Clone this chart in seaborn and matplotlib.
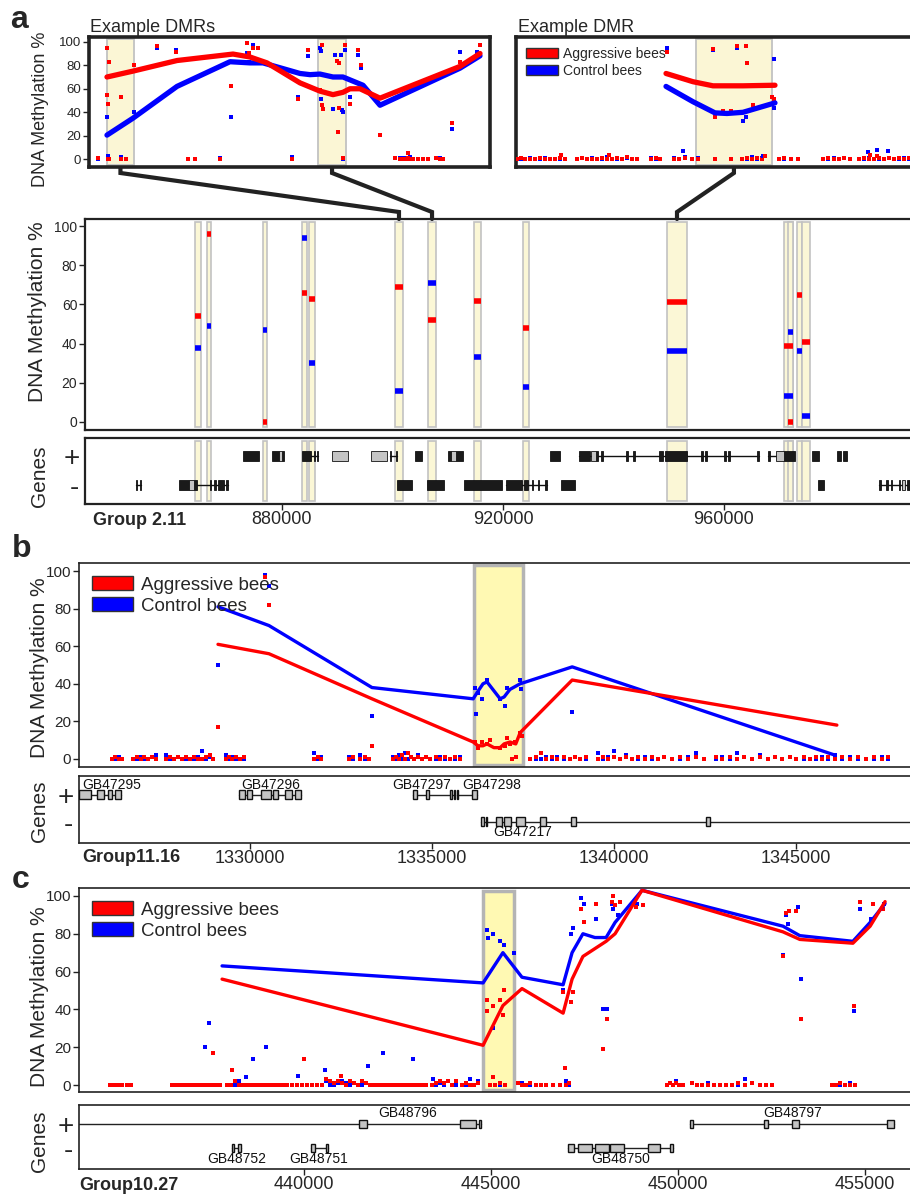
import pandas as pd
import seaborn as sns
import matplotlib.pyplot as plt
from matplotlib.lines import Line2D
from matplotlib.patches import Patch
from matplotlib.ticker import FuncFormatter

sns.set_style("white")
plt.rcParams['font.family'] = ['Liberation Sans', 'DejaVu Sans']

W, H = 910, 1195
RED = '#ff0000'
BLUE = '#0000ff'

# ---------------------------------------------------------------
# Panel a : Group 2.11 (positions in kb)
# ---------------------------------------------------------------
a_dmr_start = [864.25, 866.43, 876.56, 883.62, 884.89, 900.45, 906.43, 914.75, 923.62, 949.68, 970.86, 971.59, 973.22, 974.12]
a_dmr_end = [865.34, 867.15, 877.29, 884.53, 885.97, 901.90, 907.88, 916.02, 924.71, 953.31, 972.49, 972.49, 974.12, 975.57]
a_dmr_aggr = [54, 96, 0, 66, 63, 69, 52, 62, 48, 61, 39, 0, 65, 41]
a_dmr_ctrl = [38, 49, 47, 94, 30, 16, 71, 33, 18, 36, 13, 46, 36, 3]

a_plus_black = [(872.9, 875.8), (878.2, 879.5), (880.0, 880.4), (883.6, 885.3), (885.8, 886.0), (886.3, 886.5),
                (899.5, 899.7), (900.6, 900.8), (904.1, 905.3), (910.0, 910.5), (911.5, 912.8), (928.5, 930.3),
                (933.8, 935.8), (936.9, 937.2), (937.7, 938.1), (942.3, 942.7), (943.5, 943.9), (948.2, 949.0),
                (949.3, 953.3), (955.8, 956.2), (956.5, 956.9), (960.0, 960.4), (960.7, 961.1), (966.0, 966.3),
                (968.0, 968.4), (970.8, 972.9), (975.9, 977.2), (980.5, 981.2), (981.6, 982.3)]
a_plus_gray = [(879.5, 880.0), (889.1, 891.9), (896.1, 899.0), (910.5, 911.5), (936.0, 936.9), (969.5, 970.8)]
a_plus_introns = [(885.3, 886.5), (899.5, 900.8), (933.8, 966.3), (968.0, 970.0)]
a_minus_black = [(853.6, 853.8), (854.3, 854.5), (861.4, 863.2), (864.0, 864.6), (866.9, 867.1), (867.7, 868.0),
                 (868.4, 869.5), (869.9, 870.2), (900.8, 903.5), (906.2, 909.3), (913.0, 919.8), (920.5, 923.5),
                 (923.8, 924.5), (925.2, 925.5), (926.3, 926.6), (927.6, 928.0), (930.5, 933.0), (977.0, 978.1),
                 (988.1, 988.4), (989.3, 989.6), (990.2, 990.5), (991.6, 991.8), (993.2, 993.6)]
a_minus_gray = [(863.2, 864.0), (992.2, 992.8)]
a_minus_introns = [(853.6, 854.5), (864.6, 870.2), (920.5, 928.0), (988.1, 995.0)]

# inset "Example DMRs"
la_hl = [(900.60, 901.39), (906.74, 907.56)]
la_aggr_line = [(900.603, 70), (901.36, 75), (902.64, 84), (904.269, 89.5), (904.763, 87), (905.258, 82),
                (906.218, 65), (906.799, 58), (907.177, 55), (907.468, 57), (907.672, 60), (907.963, 60),
                (908.545, 52), (910.872, 79), (911.454, 90)]
la_ctrl_line = [(900.603, 20.6), (901.36, 35), (902.64, 62), (904.182, 83), (904.763, 82), (905.141, 82),
                (906.218, 73), (906.509, 72), (906.799, 72.5), (907.177, 70), (907.468, 70), (908.05, 63),
                (908.545, 46), (910.872, 77.5), (911.454, 88)]
la_aggr_pts = [(900.603, 95), (900.661, 83), (900.603, 55), (900.632, 47), (901.01, 53), (901.389, 80),
               (902.058, 96), (902.61, 91), (904.21, 62), (904.676, 99), (904.734, 90), (904.85, 95),
               (905.0, 95), (906.16, 51), (906.45, 93), (906.86, 97), (906.799, 59), (906.857, 46),
               (906.88, 43), (907.294, 84), (907.352, 82), (907.352, 44), (907.32, 23), (907.526, 97),
               (907.672, 47), (907.905, 93), (907.992, 80), (908.545, 21), (909.36, 5), (910.64, 31),
               (910.872, 83), (911.454, 97)]
la_ctrl_pts = [(900.603, 36), (902.058, 95), (901.389, 40), (902.61, 93), (904.21, 36), (904.734, 83),
               (904.85, 97), (904.676, 90), (906.16, 53), (906.45, 88), (906.799, 95), (906.83, 92),
               (906.83, 51), (907.177, 43), (907.236, 89), (907.40, 89), (907.44, 42), (907.468, 40),
               (907.526, 93), (907.672, 53), (907.905, 89), (907.992, 78), (908.545, 21), (910.64, 26),
               (910.872, 91), (911.367, 91)]
la_background = [(900.341, 1, 0), (900.632, 0, 3), (900.66, 0, 0), (901.01, 0, 2), (901.156, 0, 0),
                 (902.96, 0, 0), (903.163, 0, 0), (903.89, 0, 1), (905.985, 0, 2), (907.468, 1, 0),
                 (908.98, 1, 1), (909.126, 0, 1), (909.243, 0, 1), (909.30, 0, 0), (909.36, 1, 0),
                 (909.417, 0, 2), (909.50, 0, 0), (909.65, 0, 0), (909.795, 0, 0), (909.94, 0, 0),
                 (910.174, 1, 1), (910.29, 0, 1), (910.378, 0, 0)]

# inset "Example DMR"
ra_hl = [(949.79, 953.19)]
ra_aggr_line = [(948.454, 73), (949.66, 66), (950.554, 62.5), (951.895, 62.5), (953.325, 63)]
ra_ctrl_line = [(948.454, 62), (949.66, 49), (950.644, 39.5), (951.18, 39), (951.895, 40), (953.325, 48)]
ra_aggr_pts = [(948.498, 91), (950.554, 94), (951.627, 96), (952.03, 96), (952.074, 82), (953.19, 53),
               (953.28, 51), (950.644, 36), (951.0, 41), (951.36, 41), (952.342, 46), (952.88, 3),
               (957.57, 4), (957.886, 3), (945.9, 4), (943.75, 4)]
ra_ctrl_pts = [(948.498, 95), (950.554, 93), (951.627, 95), (953.28, 85), (953.28, 44), (952.03, 36),
               (951.895, 33), (949.213, 7), (952.79, 3), (957.48, 6), (957.886, 8), (958.38, 7)]
ra_background = [(941.79, 0, 0), (941.97, 1, 0), (942.15, 0, 0), (942.37, 0, 1), (942.60, 0, 0), (942.82, 1, 0),
                 (943.04, 0, 1), (943.27, 0, 0), (943.49, 0, 0), (943.72, 1, 0), (943.94, 0, 0), (944.48, 0, 0),
                 (944.70, 1, 1), (944.92, 0, 0), (945.15, 0, 1), (945.37, 0, 0), (945.59, 1, 0), (945.82, 0, 2),
                 (946.04, 0, 0), (946.26, 1, 0), (946.49, 0, 0), (946.71, 2, 1), (946.93, 0, 0), (947.16, 0, 0),
                 (947.78, 0, 1), (948.01, 1, 0), (948.19, 0, 0), (948.81, 0, 1), (949.03, 0, 0), (949.30, 1, 2),
                 (949.62, 0, 0), (949.88, 0, 1), (950.64, 0, 0), (951.36, 0, 0), (951.85, 0, 0), (952.07, 1, 0),
                 (952.30, 0, 2), (952.52, 1, 0), (952.74, 0, 1), (953.50, 0, 0), (953.73, 1, 0), (954.04, 0, 0),
                 (954.35, 0, 0), (955.47, 0, 0), (955.69, 1, 0), (955.96, 0, 1), (956.19, 0, 0), (956.41, 1, 1),
                 (956.68, 0, 0), (957.08, 0, 0), (957.30, 1, 0), (957.53, 0, 1), (957.75, 0, 0), (957.97, 1, 0),
                 (958.20, 0, 0), (958.42, 1, 1), (958.64, 0, 0), (958.87, 1, 0), (959.09, 0, 1), (959.32, 1, 0)]

# ---------------------------------------------------------------
# Panel b : Group11.16
# ---------------------------------------------------------------
b_hl = [(1336.15, 1337.50)]
b_aggr_line = [(1329.12, 61), (1330.52, 56), (1333.35, 32), (1336.13, 9), (1336.26, 7), (1336.40, 7),
               (1336.51, 8), (1336.70, 6), (1336.87, 6), (1336.98, 8), (1337.14, 9), (1337.30, 8),
               (1337.42, 14), (1338.85, 42), (1346.12, 18)]
b_ctrl_line = [(1329.12, 81), (1330.52, 71), (1333.35, 38), (1336.13, 32), (1336.26, 36), (1336.40, 40),
               (1336.51, 41), (1336.87, 32), (1336.98, 33), (1337.14, 37), (1337.42, 40), (1338.85, 49),
               (1346.07, 2)]
b_aggr_pts = [(1329.12, 17), (1330.41, 97), (1330.52, 82), (1333.35, 7), (1336.18, 9), (1336.26, 6),
              (1336.37, 9), (1336.51, 8), (1336.59, 10), (1336.87, 6), (1337.00, 7), (1337.06, 11),
              (1337.14, 8), (1337.28, 9), (1337.42, 14), (1337.47, 12)]
b_ctrl_pts = [(1329.12, 50), (1330.41, 98), (1330.52, 92), (1333.35, 23), (1336.18, 38), (1336.22, 24),
              (1336.26, 35), (1336.37, 32), (1336.51, 42), (1336.87, 32), (1337.00, 28), (1337.06, 38),
              (1337.42, 42), (1337.45, 37), (1338.85, 25)]
b_background = [(1326.21, 0, 0), (1326.29, 1, 0), (1326.40, 0, 1), (1326.48, 0, 0), (1326.79, 0, 0),
                (1326.90, 1, 0), (1327.01, 0, 1), (1327.09, 1, 0), (1327.20, 0, 0), (1327.31, 1, 1),
                (1327.42, 0, 2), (1327.69, 0, 2), (1327.80, 1, 0), (1327.91, 0, 0), (1328.02, 1, 1),
                (1328.13, 0, 0), (1328.24, 1, 0), (1328.35, 0, 0), (1328.46, 1, 0), (1328.57, 0, 1),
                (1328.68, 0, 4), (1328.79, 1, 0), (1328.90, 2, 1), (1328.98, 0, 0), (1329.34, 0, 2),
                (1329.42, 1, 0), (1329.51, 0, 1), (1329.62, 1, 0), (1329.73, 0, 0), (1329.83, 1, 0),
                (1331.76, 0, 3), (1331.87, 1, 0), (1331.95, 0, 1), (1332.72, 0, 1), (1332.83, 1, 0),
                (1333.02, 0, 2), (1333.16, 1, 0), (1333.27, 0, 0), (1333.93, 0, 1), (1334.01, 1, 0),
                (1334.09, 0, 2), (1334.18, 2, 0), (1334.26, 0, 3), (1334.34, 3, 0), (1334.42, 1, 1),
                (1334.50, 0, 0), (1334.61, 1, 2), (1334.72, 0, 0), (1334.83, 1, 1), (1334.94, 0, 0),
                (1335.11, 1, 0), (1335.22, 0, 1), (1335.36, 1, 0), (1335.49, 0, 0), (1335.63, 1, 0),
                (1335.77, 0, 1), (1337.20, 0, 0), (1337.31, 1, 1), (1337.69, 0, 0), (1337.86, 1, 0),
                (1338.00, 3, 0), (1338.13, 0, 1), (1338.30, 1, 0), (1338.43, 0, 1), (1338.62, 1, 0),
                (1338.79, 0, 0), (1338.93, 1, 1), (1339.07, 0, 0), (1339.23, 1, 0), (1339.56, 0, 3),
                (1339.70, 1, 0), (1339.83, 0, 1), (1340.00, 1, 4), (1340.16, 0, 0), (1340.33, 1, 2),
                (1340.49, 0, 0), (1340.66, 1, 0), (1340.85, 0, 1), (1341.04, 1, 0), (1341.21, 0, 0),
                (1341.37, 1, 1), (1341.59, 0, 0), (1341.81, 1, 0), (1342.03, 0, 1), (1342.25, 1, 3),
                (1342.47, 0, 0), (1342.80, 1, 0), (1342.97, 0, 1), (1343.19, 1, 0), (1343.38, 0, 3),
                (1343.57, 1, 1), (1343.79, 0, 0), (1344.01, 1, 2), (1344.23, 0, 0), (1344.42, 1, 1),
                (1344.61, 0, 0), (1344.83, 1, 1), (1345.00, 0, 0), (1345.22, 1, 0), (1345.38, 0, 0),
                (1345.55, 1, 0), (1345.71, 0, 1), (1345.88, 1, 0), (1346.07, 0, 2), (1346.26, 1, 0),
                (1346.48, 0, 1), (1346.70, 1, 0), (1346.92, 0, 0), (1347.14, 1, 0), (1347.36, 0, 1),
                (1347.53, 1, 0)]
b_genes = [
    ('GB47295', 1, [(1325.30, 1325.63), (1325.80, 1325.99), (1326.10, 1326.21), (1326.29, 1326.46)], 1325.38, 'left'),
    ('GB47296', 1, [(1329.70, 1329.86), (1329.92, 1330.05), (1330.30, 1330.58), (1330.63, 1330.77),
                    (1330.96, 1331.15), (1331.24, 1331.40)], 1329.75, 'left'),
    ('GB47297', 1, [(1334.48, 1334.59), (1334.83, 1334.92), (1335.49, 1335.55), (1335.60, 1335.63)], 1333.90, 'left'),
    ('GB47298', 1, [(1335.69, 1335.71), (1336.10, 1336.24)], 1335.82, 'left'),
    ('GB47217', 0, [(1336.35, 1336.43), (1336.48, 1336.51), (1336.76, 1336.92), (1336.98, 1337.17),
                    (1337.31, 1337.55), (1337.97, 1338.13), (1338.82, 1338.96), (1342.53, 1342.64),
                    (1349.00, 1349.10)], 1336.67, 'left'),
]

# ---------------------------------------------------------------
# Panel c : Group10.27
# ---------------------------------------------------------------
c_hl = [(444.79, 445.62)]
c_aggr_line = [(437.81, 56), (444.79, 21), (445.32, 42), (445.83, 51), (446.93, 38), (447.17, 56),
               (447.46, 68), (448.08, 76), (448.32, 80), (449.04, 103), (452.81, 81), (453.26, 77),
               (454.68, 75), (455.14, 84), (455.54, 97)]
c_ctrl_line = [(437.81, 63), (444.79, 54), (445.32, 70), (445.83, 57), (446.93, 53), (447.17, 70),
               (447.46, 80), (447.78, 78), (448.08, 78), (448.32, 86), (449.04, 103), (452.81, 84),
               (453.26, 79), (454.68, 76), (455.14, 86), (455.54, 96)]
c_aggr_pts = [(437.57, 17), (438.08, 8), (440.00, 14), (440.99, 5), (444.89, 45), (444.90, 39), (445.05, 42),
              (445.24, 45), (445.32, 37), (445.35, 50), (445.05, 4), (446.93, 49), (446.98, 9), (447.14, 44),
              (447.19, 49), (447.41, 93), (447.49, 86), (447.81, 96), (447.99, 19), (448.10, 35),
              (448.24, 97), (448.26, 100), (448.32, 95), (448.45, 97), (448.88, 94), (449.07, 95),
              (452.81, 68), (452.89, 91), (452.97, 92), (453.16, 92), (453.29, 35), (454.71, 42),
              (454.87, 97), (455.22, 96), (455.48, 93)]
c_ctrl_pts = [(437.35, 20), (437.46, 33), (438.45, 4), (438.64, 14), (438.98, 20), (439.84, 5), (440.56, 8),
              (441.71, 10), (442.11, 17), (442.91, 14), (443.45, 3), (444.89, 82), (444.92, 78), (445.05, 80),
              (445.24, 76), (445.35, 74), (445.62, 70), (445.05, 30), (446.93, 50), (447.14, 80),
              (447.19, 83), (447.41, 99), (447.49, 96), (447.81, 88), (447.99, 40), (448.10, 40),
              (448.24, 96), (448.26, 93), (448.39, 90), (448.45, 97), (448.90, 96), (452.81, 69),
              (452.89, 90), (452.94, 85), (453.21, 94), (453.29, 56), (454.71, 39), (454.87, 93),
              (455.16, 88), (455.51, 96)]
c_background = [(434.81, 0, 0), (434.92, 0, 0), (435.03, 0, 0), (435.13, 0, 0), (435.26, 0, 0), (435.37, 0, 0),
                (436.47, 0, 0), (436.58, 0, 0), (436.69, 0, 0), (436.79, 0, 0), (436.90, 0, 0), (437.01, 0, 0),
                (437.11, 0, 0), (437.22, 0, 0), (437.33, 0, 0), (437.43, 0, 0), (437.54, 0, 0), (437.65, 0, 0),
                (437.75, 0, 0), (437.94, 0, 0), (438.05, 0, 0), (438.16, 2, 0), (438.26, 0, 2), (438.37, 0, 0),
                (438.48, 0, 0), (438.58, 0, 0), (438.69, 0, 0), (438.80, 0, 0), (438.90, 0, 0), (439.01, 0, 0),
                (439.12, 0, 0), (439.22, 0, 0), (439.33, 0, 0), (439.44, 0, 0), (439.55, 0, 0), (439.68, 0, 0),
                (439.81, 0, 0), (439.95, 0, 0), (440.08, 0, 0), (440.21, 0, 0), (440.35, 0, 0), (440.48, 0, 0),
                (440.59, 3, 2), (440.70, 2, 0), (440.80, 1, 0), (440.91, 2, 1), (441.02, 1, 2), (441.12, 0, 1),
                (441.23, 2, 0), (441.34, 1, 1), (441.44, 0, 0), (441.55, 2, 0), (441.66, 1, 1), (441.77, 0, 0),
                (441.87, 0, 0), (441.98, 0, 0), (442.09, 0, 0), (442.19, 0, 0), (442.30, 0, 0), (442.41, 0, 0),
                (442.51, 0, 0), (442.62, 0, 0), (442.73, 0, 0), (442.83, 0, 0), (442.94, 0, 0), (443.05, 0, 0),
                (443.16, 0, 0), (443.26, 0, 0), (443.42, 0, 0), (443.53, 1, 0), (443.64, 2, 1), (443.74, 1, 0),
                (443.85, 2, 2), (443.96, 0, 0), (444.06, 2, 0), (444.22, 0, 0), (444.33, 1, 0), (444.44, 0, 3),
                (444.55, 0, 0), (444.65, 1, 2), (444.97, 0, 0), (445.11, 0, 0), (445.24, 1, 0), (445.38, 0, 0),
                (445.72, 1, 1), (445.83, 0, 1), (445.94, 0, 0), (446.04, 1, 0), (446.20, 0, 0), (446.34, 0, 0),
                (446.47, 0, 0), (446.66, 0, 0), (446.85, 0, 0), (447.01, 0, 2), (447.09, 1, 0), (449.71, 0, 0),
                (449.79, 1, 1), (449.87, 0, 0), (449.95, 1, 2), (450.03, 0, 0), (450.14, 0, 0), (450.37, 1, 1),
                (450.51, 0, 0), (450.64, 0, 0), (450.80, 0, 1), (450.96, 0, 0), (451.12, 0, 0), (451.28, 0, 0),
                (451.45, 0, 0), (451.61, 1, 0), (451.79, 0, 3), (451.98, 1, 1), (452.19, 0, 0), (452.35, 0, 0),
                (452.51, 0, 0), (454.12, 0, 0), (454.23, 0, 0), (454.33, 1, 0), (454.47, 0, 0), (454.60, 0, 1),
                (454.74, 0, 0)]
c_genes = [
    ('GB48796', 1, [(432.00, 432.01), (441.47, 441.69), (444.17, 444.60), (444.68, 444.73)], 441.98, 'left'),
    ('GB48797', 1, [(450.32, 450.40), (452.30, 452.41), (453.05, 453.24), (455.59, 455.78)], 452.27, 'left'),
    ('GB48752', 0, [(438.08, 438.13), (438.24, 438.32)], 438.21, 'center'),
    ('GB48751', 0, [(440.19, 440.29), (440.59, 440.64)], 440.40, 'center'),
    ('GB48750', 0, [(447.06, 447.22), (447.33, 447.70), (447.78, 448.16), (448.18, 448.56),
                    (449.20, 449.52), (449.79, 449.87)], 448.48, 'center'),
]


# ---------------------------------------------------------------
# helpers
# ---------------------------------------------------------------
fig = plt.figure(figsize=(W / 100, H / 100), dpi=100)


def add_ax(x0, y0, x1, y1):
    return fig.add_axes([x0 / W, 1 - y1 / H, (x1 - x0) / W, (y1 - y0) / H])


def pts_df(pairs):
    return pd.DataFrame(pairs, columns=['pos', 'meth'])


def draw_meth(ax, aggr_line, ctrl_line, aggr_pts, ctrl_pts, background, lw, ms):
    bg = pd.DataFrame(background, columns=['pos', 'aggr', 'ctrl'])
    sns.scatterplot(data=bg, x='pos', y='ctrl', color=BLUE, marker='s', s=ms, linewidth=0, ax=ax, zorder=3)
    sns.scatterplot(data=bg, x='pos', y='aggr', color=RED, marker='s', s=ms, linewidth=0, ax=ax, zorder=3)
    sns.scatterplot(data=pts_df(ctrl_pts), x='pos', y='meth', color=BLUE, marker='s', s=ms, linewidth=0, ax=ax, zorder=3)
    sns.scatterplot(data=pts_df(aggr_pts), x='pos', y='meth', color=RED, marker='s', s=ms, linewidth=0, ax=ax, zorder=3)
    sns.lineplot(data=pts_df(ctrl_line), x='pos', y='meth', color=BLUE, lw=lw, sort=False, estimator=None,
                 ax=ax, zorder=4, solid_capstyle='round')
    sns.lineplot(data=pts_df(aggr_line), x='pos', y='meth', color=RED, lw=lw, sort=False, estimator=None,
                 ax=ax, zorder=5, solid_capstyle='round')
    ax.set_xlabel('')
    ax.set_ylabel('')


def style_meth(ax, xlim, ylim, spine_lw, fs, hide_right=False):
    ax.set_xlim(*xlim)
    ax.set_ylim(*ylim)
    ax.set_xticks([])
    ax.set_yticks([0, 20, 40, 60, 80, 100])
    ax.tick_params(axis='y', left=True, direction='out', length=4, width=1, color='#222', labelsize=fs, pad=1.5)
    for name, s in ax.spines.items():
        s.set_linewidth(spine_lw)
        s.set_color('#222')
    if hide_right:
        ax.spines['right'].set_visible(False)


def draw_genes_ab(ax, blocks, color, h, strand):
    for x0, x1 in blocks:
        ax.add_patch(plt.Rectangle((x0, strand - h / 2), x1 - x0, h, facecolor=color,
                                   edgecolor='#111', lw=0.6, zorder=3))


def style_genes(ax, xlim, ylim, ticks, spine_lw):
    ax.set_xlim(*xlim)
    ax.set_ylim(*ylim)
    ax.set_yticks([0, 1])
    ax.set_yticklabels(['-', '+'], fontsize=20)
    ax.tick_params(axis='y', length=0, pad=4)
    ax.set_xticks(ticks)
    ax.xaxis.set_major_formatter(FuncFormatter(lambda v, _: f'{v * 1000:.0f}'))
    ax.tick_params(axis='x', bottom=True, direction='out', length=4, width=1, color='#222', labelsize=13, pad=1)
    for s in ax.spines.values():
        s.set_linewidth(spine_lw)
        s.set_color('#222')
    ax.spines['right'].set_visible(False)


def draw_named_genes(ax, genes, h, label_dy):
    for name, strand, exons, lx, ha in genes:
        ax.plot([exons[0][0], exons[-1][1]], [strand, strand], color='#222', lw=1.0, zorder=2)
        for x0, x1 in exons:
            ax.add_patch(plt.Rectangle((x0, strand - h / 2), x1 - x0, h, facecolor='#c4c4c4',
                                       edgecolor='#111', lw=1.0, zorder=3))
        ly = strand + label_dy if strand == 1 else strand - label_dy
        ax.text(lx, ly, name, ha=ha, va='center', fontsize=10, color='#111')


def ylabel(x, y, text, fs):
    fig.text(x / W, 1 - y / H, text, rotation=90, ha='center', va='center', fontsize=fs)


# ---------------------------------------------------------------
# panel a
# ---------------------------------------------------------------
a_xlim = (844.344, 994.03)
ax_la = add_ax(89, 37, 490, 167)
ax_ra = add_ax(516, 37, 912, 167)
ax_am = add_ax(85, 219, 912, 430)
ax_ag = add_ax(85, 438, 912, 504)

for x0, x1 in la_hl:
    ax_la.axvspan(x0, x1, ymin=0.012, ymax=0.988, facecolor='#fbf6d5', edgecolor='#c2c2c2', lw=1.3, zorder=1)
draw_meth(ax_la, la_aggr_line, la_ctrl_line, la_aggr_pts, la_ctrl_pts, la_background, 3.8, 7)
style_meth(ax_la, (900.080, 911.745), (-6.5, 104), 2.6, 9.5)

for x0, x1 in ra_hl:
    ax_ra.axvspan(x0, x1, ymin=0.012, ymax=0.988, facecolor='#fbf6d5', edgecolor='#c2c2c2', lw=1.3, zorder=1)
draw_meth(ax_ra, ra_aggr_line, ra_ctrl_line, ra_aggr_pts, ra_ctrl_pts, ra_background, 3.8, 7)
style_meth(ax_ra, (941.748, 959.45), (-6.5, 104), 2.6, 9.5, hide_right=True)
ax_ra.set_yticks([])
ax_ra.legend(handles=[Patch(facecolor=RED, edgecolor='#333', lw=1, label='Aggressive bees'),
                      Patch(facecolor=BLUE, edgecolor='#333', lw=1, label='Control bees')],
             loc='upper left', bbox_to_anchor=(0.0, 1.0), frameon=False, fontsize=10,
             handlelength=2.3, handleheight=0.75, handletextpad=0.4, labelspacing=0.25,
             borderaxespad=0.4, borderpad=0.3)

for x0, x1 in zip(a_dmr_start, a_dmr_end):
    ax_am.axvspan(x0, x1, ymin=0.014, ymax=0.986, facecolor='#fbf7d6', edgecolor='#c2c2c2', lw=1.2, zorder=1)
    ax_ag.axvspan(x0, x1, ymin=0.045, ymax=0.955, facecolor='#fbf7d6', edgecolor='#c2c2c2', lw=1.2, zorder=1)
ax_am.hlines(a_dmr_ctrl, a_dmr_start, a_dmr_end, color=BLUE, lw=4, zorder=3)
ax_am.hlines(a_dmr_aggr, a_dmr_start, a_dmr_end, color=RED, lw=4, zorder=3)
style_meth(ax_am, a_xlim, (-4.1, 103.6), 1.6, 10, hide_right=True)

for x0, x1 in a_plus_introns:
    ax_ag.plot([x0, x1], [1, 1], color='#111', lw=1.0, zorder=2)
for x0, x1 in a_minus_introns:
    ax_ag.plot([x0, x1], [0, 0], color='#111', lw=1.0, zorder=2)
draw_genes_ab(ax_ag, a_plus_black, '#1a1a1a', 0.36, 1)
draw_genes_ab(ax_ag, a_plus_gray, '#c4c4c4', 0.36, 1)
draw_genes_ab(ax_ag, a_minus_black, '#1a1a1a', 0.36, 0)
draw_genes_ab(ax_ag, a_minus_gray, '#c4c4c4', 0.36, 0)
style_genes(ax_ag, a_xlim, (-0.65, 1.62), [880, 920, 960], 1.6)

fig.text(90 / W, 1 - 32 / H, 'Example DMRs', fontsize=13, va='baseline')
fig.text(518 / W, 1 - 32 / H, 'Example DMR', fontsize=13, va='baseline')
fig.text(93 / W, 1 - 521 / H, 'Group 2.11', fontsize=13, fontweight='bold', va='center')


# connector lines from the insets down to the DMRs they show
def fig_x(ax, x):
    return ax.transData.transform((x, 0))[0] / fig.bbox.width


links = [(ax_la, sum(la_hl[0]) / 2, a_dmr_start[5], a_dmr_end[5]),
         (ax_la, sum(la_hl[1]) / 2, a_dmr_start[6], a_dmr_end[6]),
         (ax_ra, sum(ra_hl[0]) / 2, a_dmr_start[9], a_dmr_end[9])]
for ax_in, xin, x0, x1 in links:
    xa = fig_x(ax_in, xin)
    xb = fig_x(ax_am, (x0 + x1) / 2)
    ys = [1 - 168 / H, 1 - 173 / H, 1 - 212 / H, 1 - 219 / H]
    fig.add_artist(Line2D([xa, xa, xb, xb], ys, transform=fig.transFigure, color='#222', lw=3,
                          solid_joinstyle='miter'))

# ---------------------------------------------------------------
# panel b
# ---------------------------------------------------------------
b_xlim = (1325.302, 1348.184)
ax_b = add_ax(79, 563, 912, 767)
ax_bg = add_ax(79, 776, 912, 843)
for x0, x1 in b_hl:
    ax_b.axvspan(x0, x1, ymin=0.01, ymax=0.99, facecolor='#fff9b3', edgecolor='#b4b4b4', lw=2.5, zorder=1)
draw_meth(ax_b, b_aggr_line, b_ctrl_line, b_aggr_pts, b_ctrl_pts, b_background, 2.4, 6)
style_meth(ax_b, b_xlim, (-4.3, 104.3), 1.2, 11, hide_right=True)
draw_named_genes(ax_bg, b_genes, 0.33, 0.37)
style_genes(ax_bg, b_xlim, (-0.78, 1.7), [1330, 1335, 1340, 1345], 1.2)
fig.text(82 / W, 1 - 858 / H, 'Group11.16', fontsize=13, fontweight='bold', va='center')

# ---------------------------------------------------------------
# panel c
# ---------------------------------------------------------------
c_xlim = (433.984, 456.26)
ax_c = add_ax(79, 888, 912, 1092)
ax_cg = add_ax(79, 1105, 912, 1169)
for x0, x1 in c_hl:
    ax_c.axvspan(x0, x1, ymin=0.01, ymax=0.985, facecolor='#fff9b3', edgecolor='#b4b4b4', lw=2.5, zorder=1)
draw_meth(ax_c, c_aggr_line, c_ctrl_line, c_aggr_pts, c_ctrl_pts, c_background, 2.4, 6)
style_meth(ax_c, c_xlim, (-3.7, 104.2), 1.2, 11, hide_right=True)
draw_named_genes(ax_cg, c_genes, 0.33, 0.45)
style_genes(ax_cg, c_xlim, (-0.875, 1.79), [440, 445, 450, 455], 1.2)
fig.text(79 / W, 1 - 1185 / H, 'Group10.27', fontsize=13, fontweight='bold', va='center')

for ax in (ax_b, ax_c):
    ax.legend(handles=[Patch(facecolor=RED, edgecolor='#333', lw=1, label='Aggressive bees'),
                       Patch(facecolor=BLUE, edgecolor='#333', lw=1, label='Control bees')],
              loc='upper left', bbox_to_anchor=(0.0, 1.0), frameon=False, fontsize=13.5,
              handlelength=2.2, handleheight=0.75, handletextpad=0.4, labelspacing=0.2,
              borderaxespad=0.3, borderpad=0.4)

# axis titles and panel letters
ylabel(41, 109, 'DNA Methylation %', 13)
ylabel(38, 312, 'DNA Methylation %', 15)
ylabel(40, 476, 'Genes', 15)
ylabel(40, 668, 'DNA Methylation %', 15)
ylabel(40, 811, 'Genes', 15)
ylabel(40, 997, 'DNA Methylation %', 15)
ylabel(40, 1141, 'Genes', 15)
fig.text(10 / W, 1 - 20 / H, 'a', fontsize=23, fontweight='bold', va='center')
fig.text(12 / W, 1 - 549 / H, 'b', fontsize=23, fontweight='bold', va='center')
fig.text(12 / W, 1 - 880 / H, 'c', fontsize=23, fontweight='bold', va='center')

fig.savefig('out.png', dpi=100)
